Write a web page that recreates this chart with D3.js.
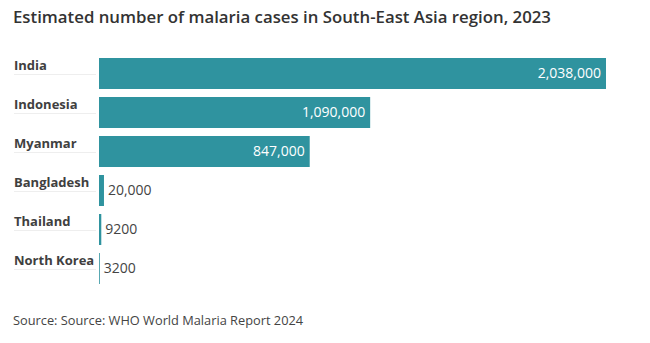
<!DOCTYPE html>
<html>
<head>
<meta charset="utf-8">
<script src="https://cdn.jsdelivr.net/npm/d3@7"></script>
<style>
  html, body { margin: 0; padding: 0; background: #fff; }
  svg { display: block; }
</style>
</head>
<body>
<svg id="chart" width="650" height="343"></svg>
<script>
// Estimated malaria cases, South-East Asia region, 2023
const countries = ["India", "Indonesia", "Myanmar", "Bangladesh", "Thailand", "North Korea"];
const cases = [2038000, 1090000, 847000, 20000, 9200, 3200];
const valueLabels = ["2,038,000", "1,090,000", "847,000", "20,000", "9200", "3200"];

const titleText = "Estimated number of malaria cases in South-East Asia region, 2023";
const sourceText = "Source: Source: WHO World Malaria Report 2024";

const svg = d3.select("#chart");
const barColor = "#2f939f";

const x = d3.scaleLinear().domain([0, d3.max(cases)]).range([99, 606]);

const y = d3.scaleBand()
  .domain(countries)
  .range([54, 288])
  .paddingInner(8 / 39)
  .paddingOuter(4 / 39);

// Title
svg.append("text")
  .attr("x", 13).attr("y", 23)
  .attr("font-family", "'Open Sans', sans-serif")
  .attr("font-weight", 600)
  .attr("font-size", 16.8)
  .attr("fill", "#333")
  .text(titleText);

const rows = svg.append("g").selectAll("g")
  .data(countries.map((c, i) => ({ country: c, value: cases[i], label: valueLabels[i] })))
  .join("g");

// Country labels with a faint rule underneath
rows.append("text")
  .attr("x", 14)
  .attr("y", d => y(d.country) + 12)
  .attr("font-family", "'Open Sans', sans-serif")
  .attr("font-weight", 700)
  .attr("font-size", 13)
  .attr("fill", "#404040")
  .text(d => d.country);

rows.append("line")
  .attr("x1", 14).attr("x2", 96)
  .attr("y1", d => y(d.country) + 16.5)
  .attr("y2", d => y(d.country) + 16.5)
  .attr("stroke", "#eeeeee")
  .attr("stroke-width", 1);

// Bars
rows.append("rect")
  .attr("x", x(0))
  .attr("y", d => y(d.country))
  .attr("width", d => Math.max(0.8, x(d.value) - x(0)))
  .attr("height", y.bandwidth())
  .attr("fill", barColor);

// Value labels: inside long bars, beside short ones
const inside = d => x(d.value) - x(0) > 100;
rows.append("text")
  .attr("x", d => inside(d) ? x(d.value) - 5 : x(d.value) + 4)
  .attr("y", d => y(d.country) + y.bandwidth() / 2)
  .attr("dy", "0.35em")
  .attr("text-anchor", d => inside(d) ? "end" : "start")
  .attr("font-family", "'Open Sans', sans-serif")
  .attr("font-size", 14)
  .attr("fill", d => inside(d) ? "#ffffff" : "#444")
  .text(d => d.label);

// Source note
svg.append("text")
  .attr("x", 13).attr("y", 325)
  .attr("font-family", "'Open Sans', sans-serif")
  .attr("font-size", 12.8)
  .attr("fill", "#444")
  .text(sourceText);
</script>
</body>
</html>
